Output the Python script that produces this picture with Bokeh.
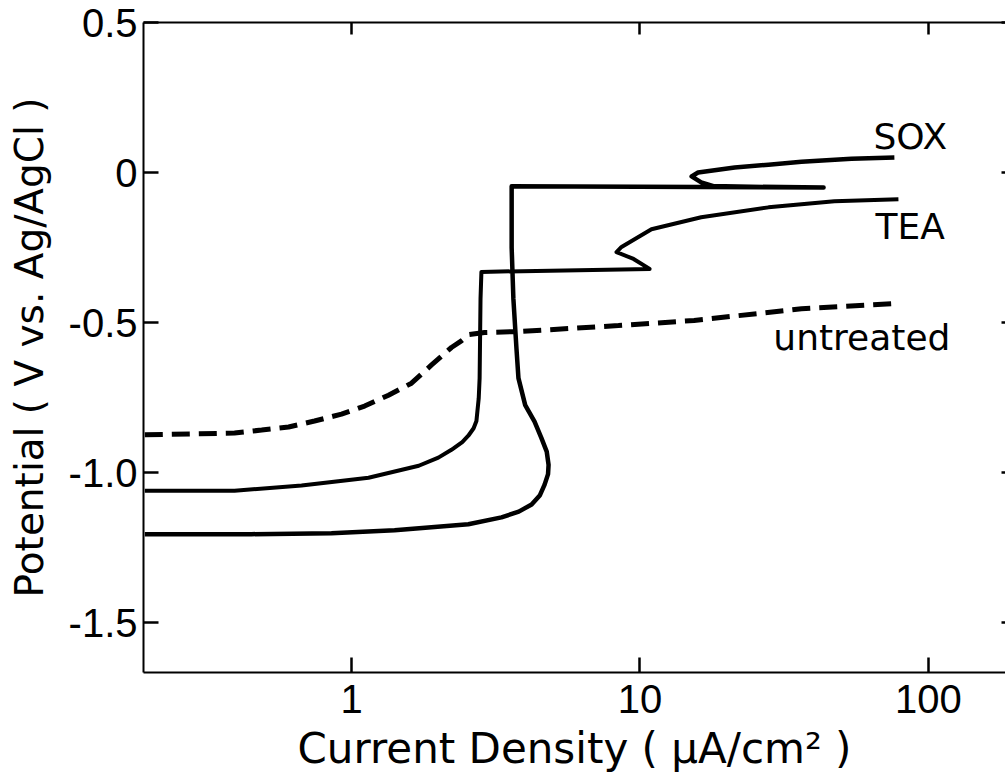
from bokeh.plotting import figure
from bokeh.models import Range1d, LinearAxis, FixedTicker, Label
from bokeh.embed import file_html
from bokeh.resources import INLINE

# Polarization curves: current density (uA/cm^2) vs potential (V vs. Ag/AgCl)
untreated_i = [0.192, 0.393, 0.488, 0.605, 0.744, 0.923, 1.11, 1.343, 1.614, 1.89,
               2.22, 2.41, 2.56, 2.89, 3.79, 5.65, 8.42, 15.4, 36.3, 76.2]
untreated_e = [-0.874, -0.868, -0.858, -0.848, -0.828, -0.805, -0.778, -0.742, -0.702, -0.642,
               -0.583, -0.560, -0.540, -0.533, -0.530, -0.520, -0.510, -0.493, -0.454, -0.437]

tea_i = [0.192, 0.393, 0.671, 1.145, 1.71, 2.00, 2.22, 2.42, 2.54, 2.65, 2.71, 2.76, 2.78,
         2.80, 2.82, 10.8, 9.50, 8.29, 8.63, 10.96, 16.3, 27.9, 47.2, 78.7]
tea_e = [-1.060, -1.060, -1.043, -1.017, -0.977, -0.950, -0.924, -0.898, -0.877, -0.852,
         -0.828, -0.752, -0.685, -0.421, -0.331, -0.321, -0.288, -0.265, -0.248, -0.189,
         -0.149, -0.116, -0.096, -0.089]

sox_i = [0.192, 0.450, 0.852, 1.41, 2.54, 3.31, 3.80, 4.21, 4.50, 4.67, 4.80, 4.82, 4.75,
         4.55, 4.31, 4.00, 3.79, 3.73, 3.64, 3.59, 3.59, 43.3, 18.1, 16.3, 15.1, 15.9,
         21.3, 27.9, 36.3, 54.1, 76.2]
sox_e = [-1.205, -1.205, -1.202, -1.192, -1.172, -1.149, -1.130, -1.106, -1.075, -1.040,
         -1.005, -0.974, -0.930, -0.884, -0.830, -0.775, -0.685, -0.586, -0.421, -0.250,
         -0.046, -0.050, -0.046, -0.033, -0.013, 0.0, 0.017, 0.026, 0.036, 0.046, 0.050]

curve_names = ["SOX", "TEA", "untreated"]
name_i = [64.5, 65.5, 29.0]
name_e = [0.119, -0.179, -0.550]

x_ticks = [1, 10, 100]
y_ticks = [0.5, 0, -0.5, -1.0, -1.5]
y_tick_text = {0.5: "0.5", 0: "0", -0.5: "-0.5", -1.0: "-1.0", -1.5: "-1.5"}

TICK_FONT = "Liberation Sans"
TEXT_FONT = "DejaVu Sans"

p = figure(width=1005, height=778, x_axis_type="log",
           x_range=Range1d(0.19, 185), y_range=Range1d(-1.666, 0.5),
           output_backend="svg", toolbar_location=None,
           min_border_left=143, min_border_right=0, min_border_top=22,
           min_border_bottom=106)
p.outline_line_color = None
p.grid.visible = False
p.background_fill_color = "white"
p.border_fill_color = "white"

def style_axis(ax, tick_len=15):
    ax.axis_line_color = "black"
    ax.axis_line_width = 2
    ax.major_tick_line_color = "black"
    ax.major_tick_line_width = 2.5
    ax.major_tick_in = tick_len
    ax.major_tick_out = 0
    ax.minor_tick_line_color = None
    ax.major_label_text_font = TICK_FONT
    ax.major_label_text_font_size = "40px"
    ax.major_label_text_color = "black"
    ax.axis_label_text_font = TEXT_FONT
    ax.axis_label_text_font_style = "normal"
    ax.axis_label_text_color = "black"

def hide_labels(ax):
    ax.major_label_text_color = None
    ax.major_label_text_font_size = "1px"
    ax.major_label_standoff = 0

xa = p.xaxis[0]
style_axis(xa)
xa.ticker = FixedTicker(ticks=x_ticks)
xa.major_label_overrides = {1: "1", 10: "10", 100: "100"}
xa.major_label_standoff = 12
xa.axis_label = "Current Density ( \u00b5A/cm\u00b2 )"
xa.axis_label_text_font_size = "42px"
xa.axis_label_standoff = 8

ya = p.yaxis[0]
style_axis(ya)
ya.ticker = FixedTicker(ticks=y_ticks)
ya.major_label_overrides = y_tick_text
ya.major_label_standoff = 6
ya.axis_label = "Potential ( V vs. Ag/AgCl )"
ya.axis_label_text_font_size = "39px"
ya.axis_label_standoff = 14

top = LinearAxis()
style_axis(top, tick_len=12)
top.ticker = FixedTicker(ticks=x_ticks)
hide_labels(top)
p.add_layout(top, "above")

right = LinearAxis()
style_axis(right, tick_len=4)
right.ticker = FixedTicker(ticks=y_ticks)
right.axis_line_color = None
hide_labels(right)
p.add_layout(right, "right")

p.line(sox_i, sox_e, line_color="black", line_width=4.5, line_join="round")
p.line(tea_i, tea_e, line_color="black", line_width=4, line_join="round")
p.line(untreated_i, untreated_e, line_color="black", line_width=5, line_dash="18 9")

for name, xi, ye in zip(curve_names, name_i, name_e):
    p.add_layout(Label(x=xi, y=ye, text=name, text_font=TEXT_FONT, text_font_size="36px",
                       text_color="black", text_baseline="alphabetic"))

open("out.html", "w").write(file_html(p, INLINE))
